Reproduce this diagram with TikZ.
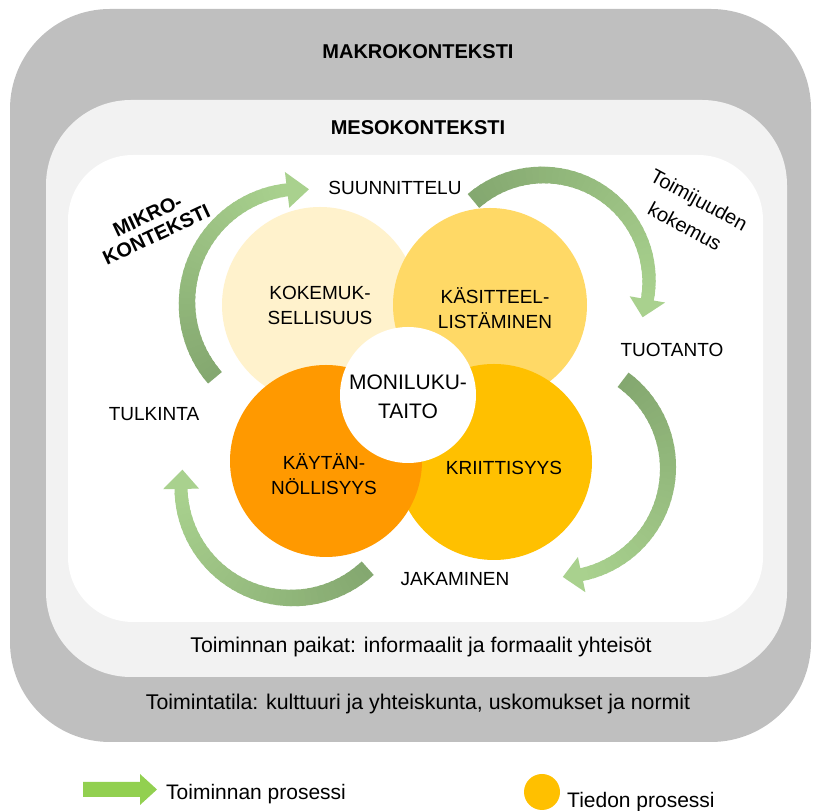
\documentclass[tikz,border=0pt]{standalone}
\usepackage{fontspec}
\setmainfont{Liberation Sans}
\usepackage{tikz}
\usetikzlibrary{positioning}

\definecolor{makro}{HTML}{BFBFBF}
\definecolor{meso}{HTML}{F2F2F2}
\definecolor{kokemcol}{HTML}{FFF2CC}
\definecolor{kasitcol}{HTML}{FFD966}
\definecolor{kaytcol}{HTML}{FF9900}
\definecolor{kriitcol}{HTML}{FFC000}
\definecolor{greendark}{HTML}{84A870}
\definecolor{greenlight}{HTML}{A9D18E}
\definecolor{greenlegend}{HTML}{92D050}

% curved process arrow: centre x, centre y, radius, tail angle, head base angle, tip angle
\newcommand{\procarrow}[6]{%
  \foreach \seg in {0,...,39}{%
    \pgfmathsetmacro{\angA}{(#4)+((#5)-(#4))*\seg/40}%
    \pgfmathsetmacro{\angB}{(#4)+((#5)-(#4))*(\seg+1.4)/40}%
    \pgfmathsetmacro{\shade}{100-100*\seg/39}%
    \pgfmathsetmacro{\wid}{18-5*\seg/39}%
    \draw[line width=\wid pt, greendark!\shade!greenlight]
      ([shift={(\angA:#3)}]#1,#2) arc[start angle=\angA, end angle=\angB, radius=#3];
  }%
  \fill[greenlight] ([shift={(#5:#3-18)}]#1,#2) -- ([shift={(#5:#3+18)}]#1,#2)
    -- ([shift={(#6:#3)}]#1,#2) -- cycle;
}

\begin{document}
\begin{tikzpicture}[x=1pt, y=1pt]
			\tikzstyle{Knowledge}	= [circle, inner sep=0pt]
			\tikzstyle{Title}		= [font=\fontsize{20}{21}\selectfont\bfseries]
			\tikzstyle{Phase}		= [font=\fontsize{19}{23}\selectfont]
			\tikzstyle{Inner}		= [font=\fontsize{19}{25}\selectfont, align=center]
			\tikzstyle{Setting}	= [font=\fontsize{21.3}{25}\selectfont, anchor=base, inner sep=0pt]
			\tikzstyle{Legend}	= [font=\fontsize{21}{25}\selectfont, anchor=base west, inner sep=0pt]

			\useasboundingbox (0,0) rectangle (815,811);

			% contexts
			\fill[makro, rounded corners=100pt] (10,69) rectangle (811,802);
			\fill[meso, rounded corners=85pt] (46,134) rectangle (787,711);
			\fill[white, rounded corners=65pt] (68,189) rectangle (763,656);

			% knowledge circles
			\node (kokem) at (320,506) [Knowledge, fill=kokemcol, minimum size=196pt] {};
			\node (kasit) at (490,506) [Knowledge, fill=kasitcol, minimum size=194pt] {};
			\node (kriit) at (494,349) [Knowledge, fill=kriitcol, minimum size=196pt] {};
			\node (kayt) at (326,350) [Knowledge, fill=kaytcol, minimum size=192pt] {};
			\node (moni) at (408,416) [Knowledge, fill=white, minimum size=136pt] {};

			% process arrows
			\procarrow{301}{508}{114}{221}{97}{86}
			\procarrow{543}{530}{106}{131}{-10}{-20}
			\procarrow{559}{343}{109}{54}{-78}{-88}
			\procarrow{292}{324}{111}{-47}{-179}{-189}

			\node (kokemtxt) at (320,506) [Inner] {KOKEMUK-\\SELLISUUS};
			\node (kasittxt) at (495,503) [Inner] {KÄSITTEEL-\\LISTÄMINEN};
			\node (kayttxt) at (324,337) [Inner] {KÄYTÄN-\\NÖLLISYYS};
			\node (kriittxt) at (504,343) [Inner] {KRIITTISYYS};
			\node (monitxt) at (408,414) [Inner, font=\fontsize{21}{29}\selectfont] {MONILUKU-\\TAITO};

			\node (makrotxt) at (418,759) [Title] {MAKROKONTEKSTI};
			\node (mesotxt) at (418,683) [Title] {MESOKONTEKSTI};
			\node (mikrotxt) at (152,586) [Title, rotate=25, align=center] {MIKRO-\\KONTEKSTI};

			\node (suunn) at (395,623) [Phase] {SUUNNITTELU};
			\node (tuot) at (672,461) [Phase] {TUOTANTO};
			\node (jak) at (455,232) [Phase] {JAKAMINEN};
			\node (tulk) at (154,397) [Phase] {TULKINTA};
			\node (toimij) at (692,598) [rotate=-28.5, align=center, font=\fontsize{20}{30}\selectfont] {Toimijuuden\\kokemus};

			\node (paikat) at (421,158) [Setting] {Toiminnan paikat: informaalit ja formaalit yhteisöt};
			\node (tila) at (418,101) [Setting] {Toimintatila: kulttuuri ja yhteiskunta, uskomukset ja normit};

			% legend
			\fill[greenlegend] (83,14) -- (140,14) -- (140,6) -- (157,21.5) -- (140,37) -- (140,29) -- (83,29) -- cycle;
			\node (legact) at (166,11) [Legend] {Toiminnan prosessi};
			\node (legdot) at (542,19) [Knowledge, fill=kriitcol, minimum size=36pt] {};
			\node (legknow) at (567,3) [Legend] {Tiedon prosessi};
		\end{tikzpicture}
\end{document}
